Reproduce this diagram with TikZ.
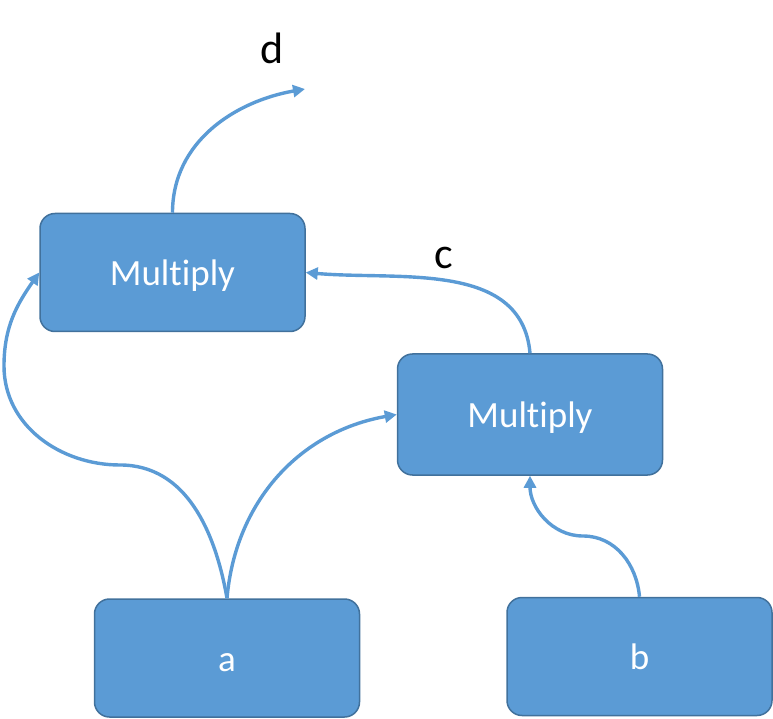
\documentclass[tikz,border=0pt]{standalone}
\usepackage{fontspec}
\setmainfont[RawFeature={-liga}]{Carlito}
\usetikzlibrary{arrows.meta,positioning}
\definecolor{opblue}{RGB}{91,155,213}
\definecolor{opedge}{RGB}{65,113,156}
\tikzset{
  opbox/.style={
    rounded corners=15pt,
    draw=opedge,
    line width=1.5pt,
    fill=opblue,
    text=white,
    minimum width=265pt,
    minimum height=118pt,
    inner sep=0pt,
    text height=30pt,
    text depth=4pt,
    font=\fontsize{37}{44}\selectfont
  },
  varname/.style={
    text=black,
    inner sep=0pt,
    font=\fontsize{44}{52}\selectfont
  },
  arrow/.style={
    -{Triangle[length=12pt,width=12pt]},
    line width=3.4pt,
    opblue
  }
}
\begin{document}
\begin{tikzpicture}[x=1pt,y=1pt]
\useasboundingbox (0,0) rectangle (773,718);
\node[opbox] (a) at (227,60) {a};
\node[opbox] (b) at (639.5,61.5) {b};
\node[opbox, minimum height=121pt] (m2) at (530,303.5) {Multiply};
\node[opbox] (m1) at (172.5,445.5) {Multiply};
\node[varname] (c) at (444,460.5) {c};
\node[varname] (d) at (272,670) {d};
\coordinate (dout) at (305,629);
\draw[arrow] (m1.north) to[out=90,in=190] (dout);
\draw[arrow] (m2.north) to[out=95,in=-5] (m1.east);
\draw[arrow] (a.north) to[out=100,in=0] (120,253) to[out=180,in=-90] (4,352) to[out=90,in=235] (m1.west);
\draw[arrow] (a.north) to[out=85,in=190] (m2.west);
\draw[arrow] (b.north) to[out=95,in=0] (583,182) to[out=180,in=-90] (m2.south);
\end{tikzpicture}
\end{document}
